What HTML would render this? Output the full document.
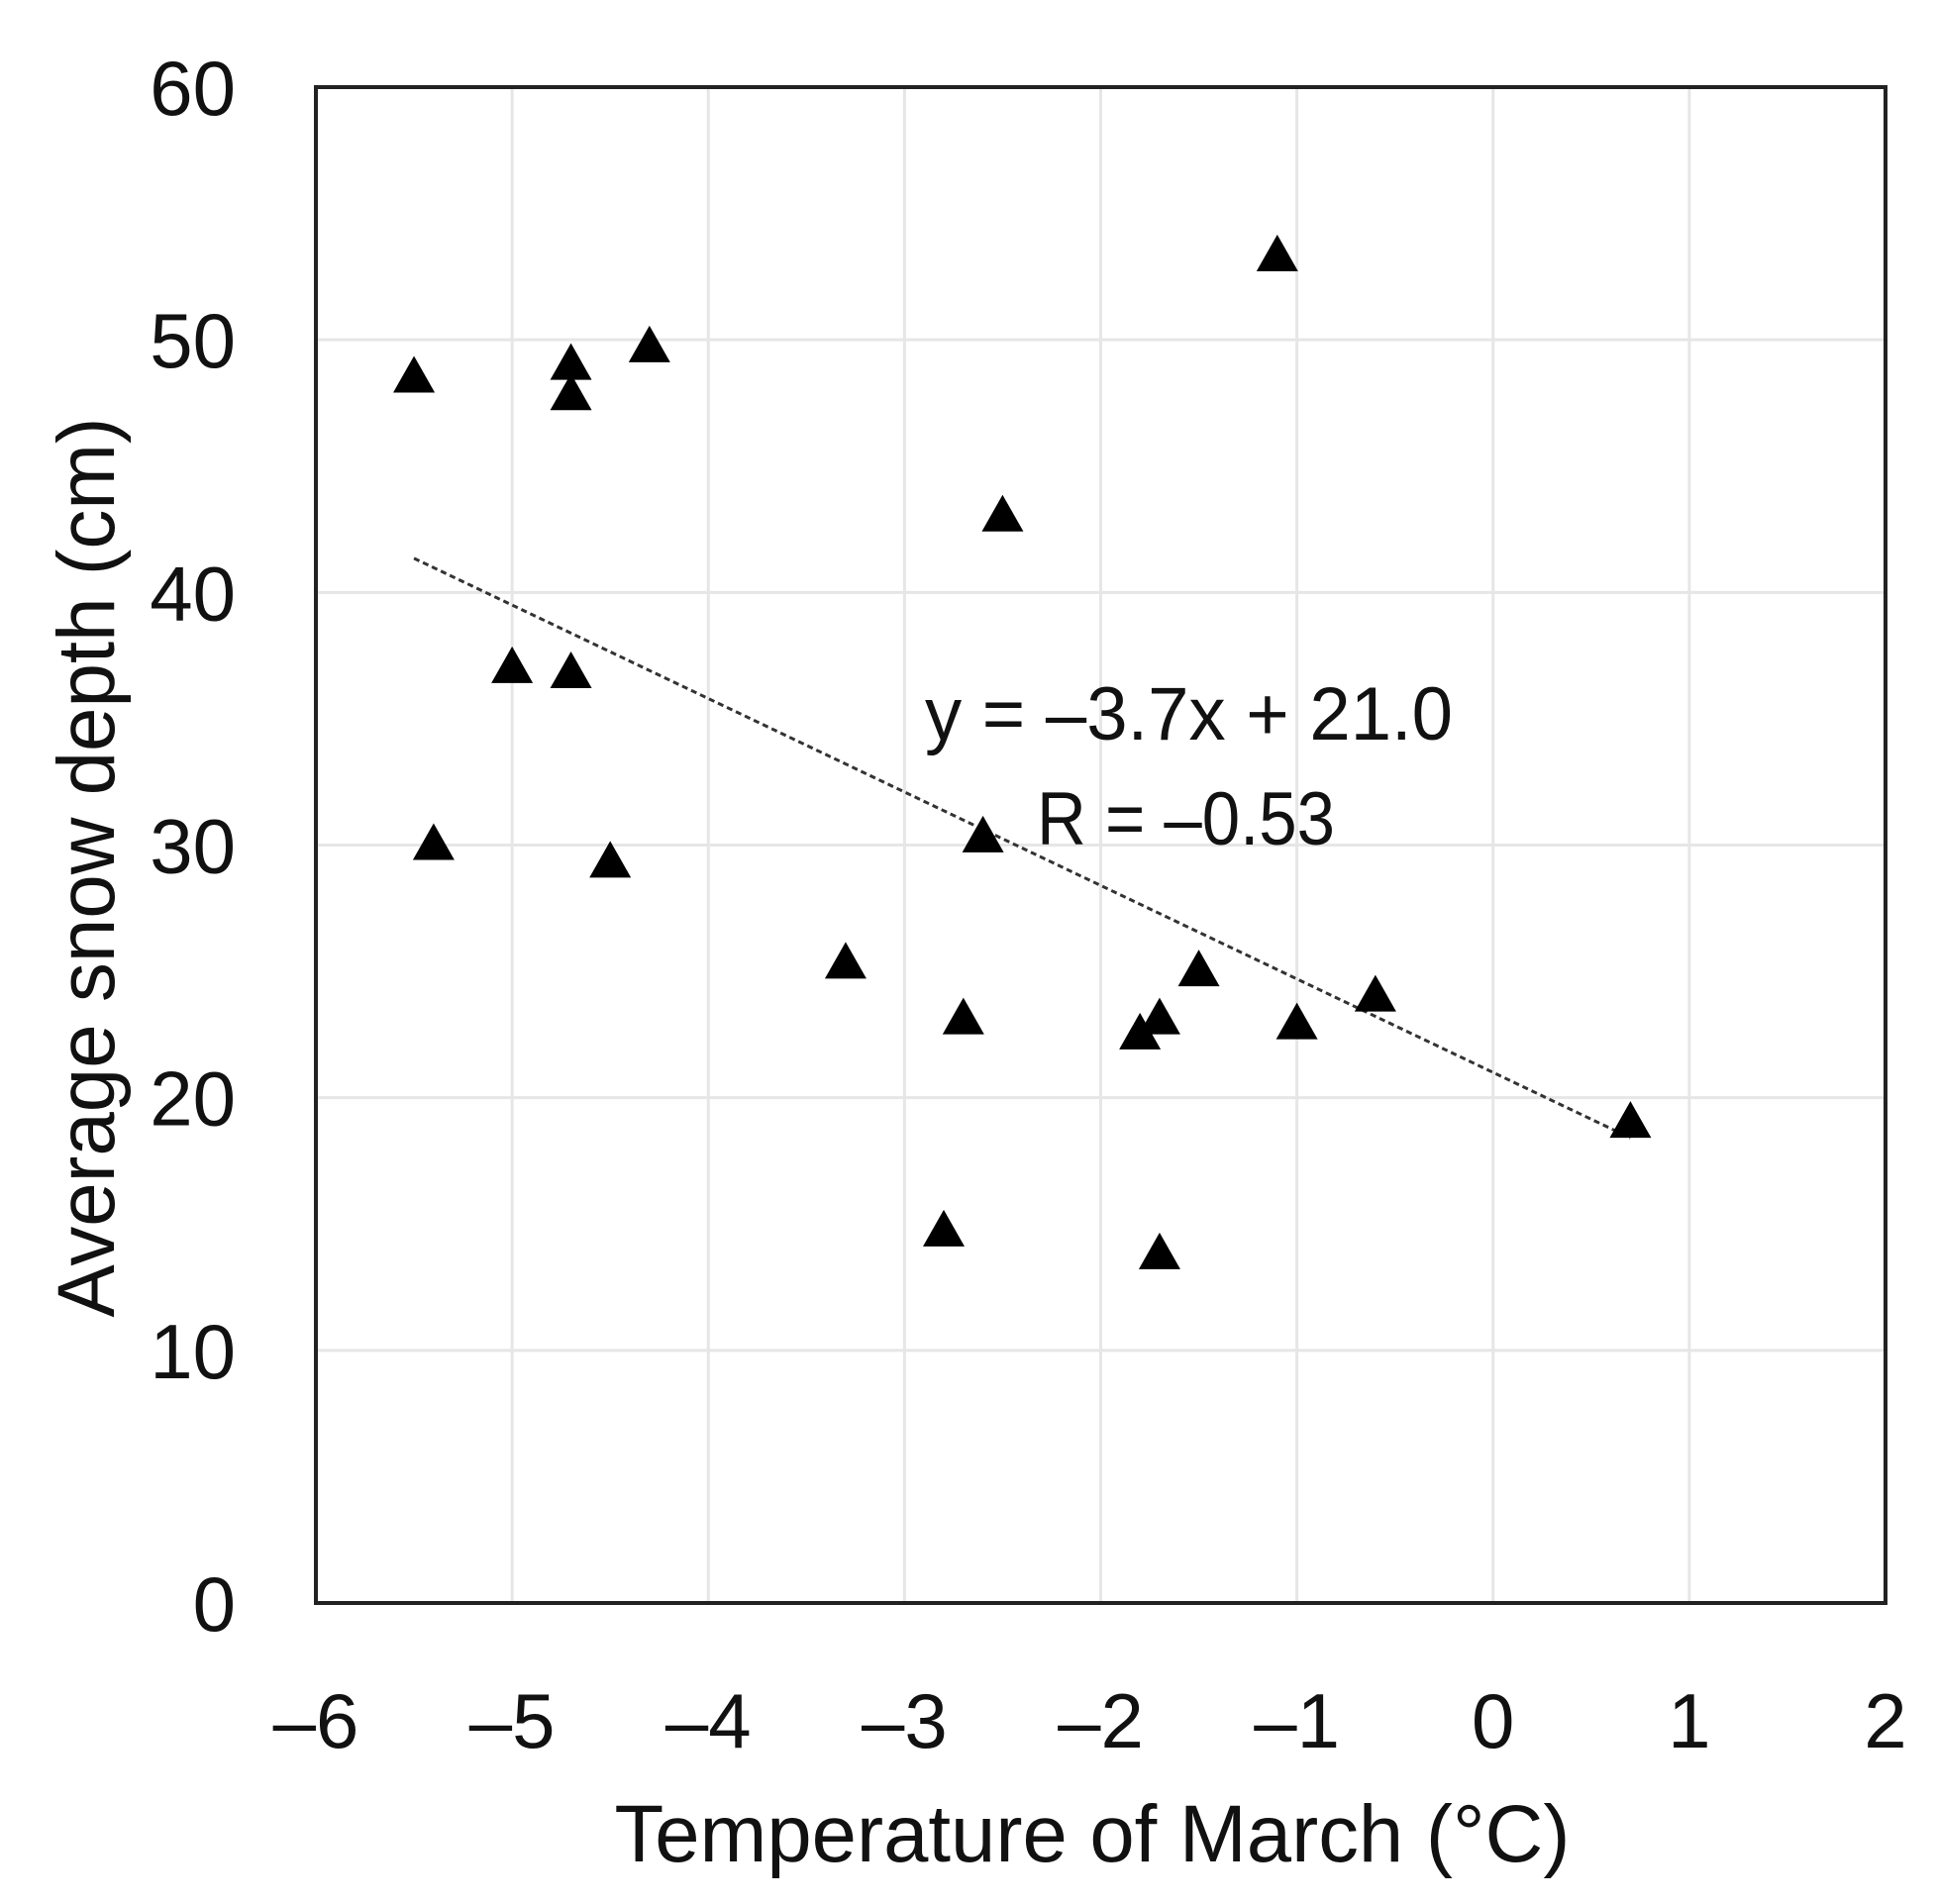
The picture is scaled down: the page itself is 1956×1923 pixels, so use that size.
<!DOCTYPE html>
<html><head><meta charset="utf-8"><style>html,body{margin:0;padding:0;background:#fff}svg{display:block}</style></head>
<body>
<svg id="chart" width="1956" height="1923" viewBox="0 0 1956 1923" xmlns="http://www.w3.org/2000/svg" font-family="'Liberation Sans', sans-serif">
<g id="grid"></g>
<g id="trend"></g>
<g id="points"></g>
<rect x="319" y="88" width="1585" height="1531" fill="none" stroke="#222" stroke-width="4"/>
<g id="xticks" font-size="78" fill="#111" text-anchor="middle"></g>
<g id="yticks" font-size="78" fill="#111" text-anchor="end"></g>
<text x="1103" y="1880" font-size="82" text-anchor="middle" textLength="965" lengthAdjust="spacingAndGlyphs" fill="#111">Temperature of March (°C)</text>
<text transform="translate(115,876) rotate(-90)" font-size="82" text-anchor="middle" textLength="909" lengthAdjust="spacingAndGlyphs" fill="#111">Average snow depth (cm)</text>
<text x="934" y="747" font-size="76" textLength="533" lengthAdjust="spacingAndGlyphs" fill="#111">y = –3.7x + 21.0</text>
<text x="1047" y="853" font-size="76" textLength="301" lengthAdjust="spacingAndGlyphs" fill="#111">R = –0.53</text>
</svg>
<script>
const xVals=[-5.5,-5.4,-5.0,-4.7,-4.7,-4.7,-4.5,-4.3,-3.3,-2.8,-2.7,-2.6,-2.5,-1.8,-1.7,-1.7,-1.5,-1.1,-1.0,-0.6,0.7];
const yVals=[48.5,30.0,37.0,49.0,47.8,36.8,29.3,49.7,25.3,14.7,23.1,30.3,43.0,22.5,23.1,13.8,25.0,53.3,22.9,24.0,19.0];
const xTicks=[-6,-5,-4,-3,-2,-1,0,1,2];
const yTicks=[0,10,20,30,40,50,60];
const trendSlope=-3.7;
const trendIntercept=21.0;
const trendRange=[-5.5,0.7];
const NS='http://www.w3.org/2000/svg';
const X=v=>319+(v+6)*(1585/8);
const Y=v=>1619-v*(1531/60);
function mk(tag,attrs,parent){const e=document.createElementNS(NS,tag);for(const k in attrs)e.setAttribute(k,attrs[k]);parent.appendChild(e);return e;}
const grid=document.getElementById('grid');
xTicks.forEach(t=>{const l=mk('line',{x1:X(t),x2:X(t),y1:88,y2:1619,stroke:'#e6e6e6','stroke-width':3},grid);


const tx=mk('text',{x:X(t),y:1765},document.getElementById('xticks'));tx.textContent=(t<0?'–'+(-t):t);

});
yTicks.forEach(t=>{const l=mk('line',{x1:319,x2:1904,y1:Y(t),y2:Y(t),stroke:'#e6e6e6','stroke-width':3},grid);


const tx=mk('text',{x:238,y:Y(t)+28},document.getElementById('yticks'));tx.textContent=t;

});
const tl=mk('line',{x1:X(trendRange[0]),y1:Y(trendSlope*trendRange[0]+trendIntercept),x2:X(trendRange[1]),y2:Y(trendSlope*trendRange[1]+trendIntercept),stroke:'#333','stroke-width':3,'stroke-dasharray':'6,4'},document.getElementById('trend'));


const pts=document.getElementById('points');
xVals.forEach((xv,i)=>{const cx=X(xv),cy=Y(yVals[i]);
const p=mk('polygon',{points:`${cx},${cy-22} ${cx-21},${cy+15} ${cx+21},${cy+15}`,fill:'#000'},pts);

});
</script>
</body></html>
